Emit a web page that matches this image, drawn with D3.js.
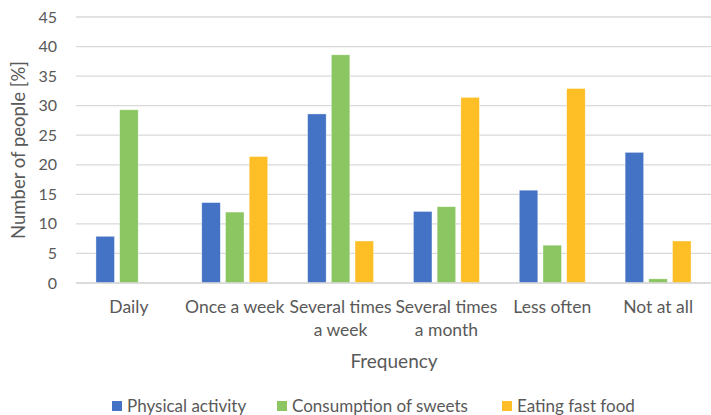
<!DOCTYPE html>
<html>
<head>
<meta charset="utf-8">
<script src="https://cdn.jsdelivr.net/npm/d3@7"></script>
<style>
  html, body { margin: 0; padding: 0; background: #fff; }
  svg { display: block; }
  text { font-family: Lato, "Open Sans", sans-serif; fill: #595959; }
</style>
</head>
<body>
<svg id="chart" width="711" height="415"></svg>
<script>
// Frequency categories (multi-line labels split on "\n")
const categories = ["Daily", "Once a week", "Several times\na week", "Several times\na month", "Less often", "Not at all"];
const seriesNames = ["Physical activity", "Consumption of sweets", "Eating fast food"];
const physicalActivity = [7.9, 13.6, 28.6, 12.1, 15.7, 22.1];
const sweets = [29.3, 12.0, 38.6, 12.9, 6.4, 0.7];
const fastFood = [0, 21.4, 7.1, 31.4, 32.9, 7.1];
const yTicks = [0, 5, 10, 15, 20, 25, 30, 35, 40, 45];
const colors = ["#4472C4", "#8BC662", "#FDBE26"];

const seriesValues = [physicalActivity, sweets, fastFood];
const rows = categories.map((c, i) => ({ cat: c, values: seriesValues.map(s => s[i]) }));

const svg = d3.select("#chart");
const margin = { left: 76, right: 0, top: 17, bottom: 132 };
const width = 711, height = 415;
const plotBottom = height - margin.bottom; // 283

const x = d3.scaleBand().domain(categories).range([margin.left, width - margin.right]).paddingInner(0).paddingOuter(0);
const y = d3.scaleLinear().domain([0, 45]).range([plotBottom, margin.top]);

const barW = x.bandwidth() * 0.175;
const barGap = barW * 0.28;
const groupW = barW * 3 + barGap * 2;
const xs = d3.scaleBand().domain(d3.range(3)).range([0, groupW]).paddingInner(barGap / (barW + barGap)).paddingOuter(0);

// horizontal gridlines
svg.append("g").selectAll("line").data(yTicks).join("line")
  .attr("x1", margin.left).attr("x2", width - margin.right)
  .attr("y1", d => y(d)).attr("y2", d => y(d))
  .attr("stroke", "#D9D9D9").attr("stroke-width", 1.3);

// y tick labels
svg.append("g").selectAll("text").data(yTicks).join("text")
  .attr("x", 57).attr("y", d => y(d)).attr("dy", "0.35em")
  .attr("text-anchor", "end").style("font-size", "16px")
  .text(d => d);

// bars
const groups = svg.append("g").selectAll("g").data(rows).join("g")
  .attr("transform", d => `translate(${x(d.cat) + (x.bandwidth() - groupW) / 2},0)`);
groups.selectAll("rect").data(d => d.values.map((v, k) => ({ v, k }))).join("rect")
  .attr("x", d => xs(d.k)).attr("width", xs.bandwidth())
  .attr("y", d => y(d.v)).attr("height", d => plotBottom - y(d.v))
  .attr("fill", d => colors[d.k])
  .attr("stroke", "#fff").attr("stroke-width", 0.6).attr("stroke-opacity", d => d.v > 0 ? 0.6 : 0);

// baseline
svg.append("line").attr("x1", margin.left).attr("x2", width).attr("y1", plotBottom).attr("y2", plotBottom)
  .attr("stroke", "#D9D9D9").attr("stroke-width", 1.3);

// x category labels
const xl = svg.append("g").selectAll("text").data(categories).join("text")
  .attr("x", d => x(d) + x.bandwidth() / 2).attr("y", 313)
  .attr("text-anchor", "middle").style("font-size", "17.5px");
xl.selectAll("tspan").data(d => d.split("\n")).join("tspan")
  .attr("x", function () { return d3.select(this.parentNode).attr("x"); })
  .attr("dy", (d, i) => i === 0 ? 0 : 23)
  .text(d => d);

// axis titles
svg.append("text").attr("x", 394).attr("y", 368)
  .attr("text-anchor", "middle").style("font-size", "19px").text("Frequency");
svg.append("text").attr("transform", `translate(25,${(y(0) + y(45)) / 2}) rotate(-90)`)
  .attr("text-anchor", "middle").style("font-size", "18.5px").text("Number of people [%]");

// legend
const legendX = [112, 277, 502];
const lg = svg.append("g").selectAll("g").data(seriesNames).join("g")
  .attr("transform", (d, i) => `translate(${legendX[i]},401)`);
lg.append("rect").attr("x", 0).attr("y", 0).attr("width", 10).attr("height", 10).attr("fill", (d, i) => colors[i]);
lg.append("text").attr("x", 15).attr("y", 11).style("font-size", "17px").text(d => d);
</script>
</body>
</html>
